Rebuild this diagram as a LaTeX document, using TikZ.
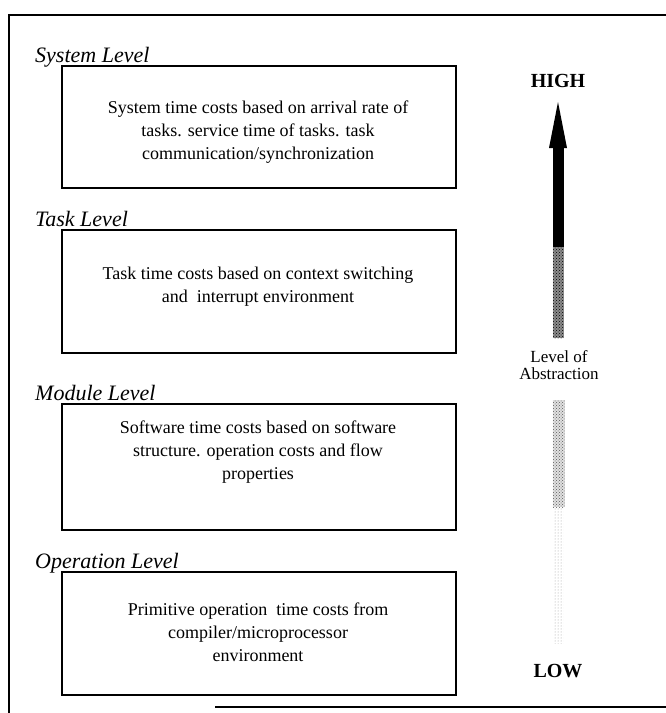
\documentclass[tikz,border=0pt]{standalone}
\usepackage{fontspec}
\setmainfont{Liberation Serif}
\usetikzlibrary{patterns}
\begin{document}
\begin{tikzpicture}[x=1pt,y=-1pt,
  frame/.style={line width=1.1pt},
  levelbox/.style={draw,line width=1.8pt,anchor=north west,inner sep=0pt},
  boxtext/.style={align=center,font=\fontsize{18}{23}\selectfont,inner sep=0pt},
  heading/.style={anchor=base west,font=\fontsize{22}{26}\selectfont\itshape,inner sep=0pt},
  scalelabel/.style={anchor=base,font=\fontsize{20}{24}\selectfont\bfseries,inner sep=0pt},
  abstr/.style={anchor=base,align=center,font=\fontsize{17}{17}\selectfont,inner sep=0pt}]
\useasboundingbox (0,0) rectangle (666,713);
% outer frame
\coordinate (ftr) at (666,15);
\coordinate (ftl) at (9,15);
\coordinate (fbl) at (9,713);
\coordinate (bba) at (215,707);
\coordinate (bbb) at (666,707);
\draw[frame] (ftr) -- (ftl) -- (fbl);
\draw[line width=1.8pt] (bba) -- (bbb);
% boxes
\node[levelbox,minimum width=394pt,minimum height=122pt] (sys) at (61,65) {};
\node[levelbox,minimum width=394pt,minimum height=123pt] (task) at (61,229) {};
\node[levelbox,minimum width=394pt,minimum height=126pt] (mod) at (61,403) {};
\node[levelbox,minimum width=394pt,minimum height=123pt] (op) at (61,571) {};
% headings
\node[heading] (hsys) at (35,62) {System Level};
\node[heading] (htask) at (35,226) {Task Level};
\node[heading] (hmod) at (35,400) {Module Level};
\node[heading] (hop) at (35,568) {Operation Level};
% box texts
\node[boxtext] (tsys) at (258,132) {System time costs based on arrival rate of\\tasks. service time of tasks. task\\communication/synchronization};
\node[boxtext] (ttask) at (258,287) {Task time costs based on context switching\\and\ \ interrupt environment};
\node[boxtext] (tmod) at (258,452) {Software time costs based on software\\structure. operation costs and flow\\properties};
\node[boxtext] (top) at (258,632) {Primitive operation\ \ time costs from\\compiler/microprocessor\\environment};
% scale
\node[scalelabel] (high) at (558,87) {HIGH};
\node[scalelabel] (low) at (558,677) {LOW};
\node[abstr] (abs) at (559,379) {Level of\\Abstraction};
% arrow
\coordinate (tip) at (558,102);
\fill (549,148) -- (tip) -- (567,148) -- cycle;
\fill (552.5,147) rectangle (563.5,247);
\fill[black!45] (552.5,247) rectangle (563.5,338);
\fill[pattern=crosshatch dots,pattern color=black] (552.5,247) rectangle (563.5,338);
\fill[black!12] (552.5,400) rectangle (564.5,507);
\fill[pattern=crosshatch dots,pattern color=black!65] (552.5,400) rectangle (564.5,507);
\fill[pattern=dots,pattern color=black!40] (553.5,507) rectangle (563.5,643);
\end{tikzpicture}
\end{document}
